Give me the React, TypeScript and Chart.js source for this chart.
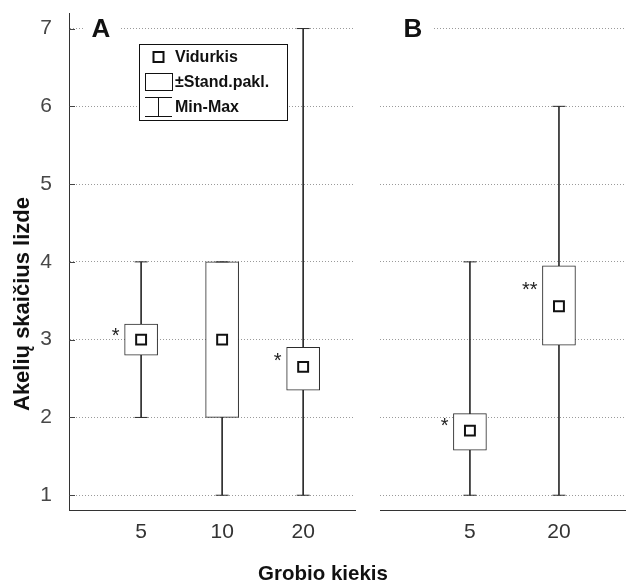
import React, { useEffect, useRef } from 'react';
import { Chart, registerables } from 'chart.js';

Chart.register(...registerables);

const FONT = '"Liberation Sans", Arial, Helvetica, sans-serif';

// Panel A: prey amount 5, 10, 20
const categoriesA = ['5', '10', '20'];
const meanA = [3.0, 3.0, 2.65];
const sdLowA = [2.8, 2.0, 2.35];
const sdHighA = [3.2, 4.0, 2.9];
const minA = [2, 1, 1];
const maxA = [4, 4, 7];
const starsA = ['*', '', '*'];

// Panel B: prey amount 5, 20
const categoriesB = ['5', '20'];
const meanB = [1.83, 3.43];
const sdLowB = [1.58, 2.93];
const sdHighB = [2.05, 3.95];
const minB = [1, 1];
const maxB = [4, 6];
const starsB = ['*', '**'];

const yTicks = [1, 2, 3, 4, 5, 6, 7];
const yTitle = 'Akelių skaičius lizde';
const xTitle = 'Grobio kiekis';
const legendItems = ['Vidurkis', '±Stand.pakl.', 'Min-Max'];

const INK = '#2b2b2b';

type Panel = {
  name: string;
  categories: string[];
  mean: number[];
  low: number[];
  high: number[];
  min: number[];
  max: number[];
  stars: string[];
  xMin: number;
  xMax: number;
  showY: boolean;
  showLegend: boolean;
  padding: { top: number; left: number; right: number; bottom: number };
};

function buildDatasets(p: Panel): any[] {
  const idx = p.mean.map((_, i) => i);
  return [
    {
      type: 'bar',
      label: 'Min-Max',
      data: idx.map((i) => ({ x: i, y: [p.min[i], p.max[i]] })),
      barThickness: 1,
      backgroundColor: INK,
      borderWidth: 0,
      grouped: false,
      order: 4,
    },
    {
      type: 'bar',
      label: '±Stand.pakl.',
      data: idx.map((i) => ({ x: i, y: [p.low[i], p.high[i]] })),
      barThickness: 33,
      backgroundColor: '#ffffff',
      borderColor: INK,
      borderWidth: 1,
      borderSkipped: false,
      grouped: false,
      order: 3,
    },
    {
      type: 'line',
      label: 'caps',
      data: idx.flatMap((i) => [
        { x: i, y: p.min[i] },
        { x: i, y: p.max[i] },
      ]),
      showLine: false,
      pointStyle: 'line',
      pointRadius: 6.5,
      pointBorderColor: INK,
      pointBorderWidth: 1,
      order: 2,
    },
    {
      type: 'line',
      label: 'Vidurkis',
      data: idx.map((i) => ({ x: i, y: p.mean[i] })),
      showLine: false,
      pointStyle: 'rect',
      pointRadius: 7,
      pointBackgroundColor: '#ffffff',
      pointBorderColor: '#111111',
      pointBorderWidth: 2,
      order: 1,
    },
  ];
}

function panelPlugin(p: Panel) {
  return {
    id: 'panelDecor' + p.name,
    beforeDatasetsDraw(chart: any) {
      const { ctx, chartArea } = chart;
      const ys = chart.scales.y;
      const y7 = ys.getPixelForValue(7);
      ctx.save();
      // short inward tick marks on the value axis
      if (p.showY) {
        ctx.strokeStyle = '#444444';
        ctx.lineWidth = 1;
        ctx.beginPath();
        yTicks.forEach((v) => {
          const y = Math.round(ys.getPixelForValue(v)) + 0.5;
          ctx.moveTo(chartArea.left, y);
          ctx.lineTo(chartArea.left + 6, y);
        });
        ctx.stroke();
      }
      ctx.font = `bold 26px ${FONT}`;
      ctx.textBaseline = 'middle';
      ctx.textAlign = 'center';
      const cx = p.showY ? chartArea.left + 32 : chartArea.left + 33;
      const w = ctx.measureText(p.name).width;
      ctx.fillStyle = '#ffffff';
      const bgLeft = p.showY ? cx - w / 2 - 7 : chartArea.left;
      ctx.fillRect(bgLeft, y7 - 14, cx + w / 2 + 10 - bgLeft, 28);
      ctx.fillStyle = '#111111';
      ctx.fillText(p.name, cx, y7 + 1);
      ctx.restore();
    },
    afterDatasetsDraw(chart: any) {
      const { ctx, chartArea } = chart;
      const xs = chart.scales.x;
      const ys = chart.scales.y;
      ctx.save();
      // significance marks left of the boxes
      ctx.font = `20px ${FONT}`;
      ctx.fillStyle = '#222222';
      ctx.textAlign = 'right';
      ctx.textBaseline = 'alphabetic';
      p.stars.forEach((s, i) => {
        if (!s) return;
        const x = xs.getPixelForValue(i) - 16.5 - 5;
        const y = (ys.getPixelForValue(p.mean[i]) + ys.getPixelForValue(p.high[i])) / 2;
        ctx.fillText(s, x, y + 10);
      });

      if (p.showLegend) {
        const L = chartArea.left + 70;
        const T = chartArea.top + 31;
        const W = 148;
        const H = 76;
        ctx.fillStyle = '#ffffff';
        ctx.fillRect(L, T, W, H);
        ctx.strokeStyle = '#111111';
        ctx.lineWidth = 1;
        ctx.strokeRect(L + 0.5, T + 0.5, W, H);

        const sx = L + 19.5;
        const rows = [T + 13, T + 38, T + 63];
        // mean marker
        ctx.lineWidth = 2;
        ctx.strokeRect(sx - 5, rows[0] - 5, 10, 10);
        // sd box
        ctx.lineWidth = 1;
        ctx.strokeRect(L + 6.5, rows[1] - 8.5, 27, 17);
        // min-max whisker
        ctx.beginPath();
        ctx.moveTo(L + 6, rows[2] - 9.5);
        ctx.lineTo(L + 33, rows[2] - 9.5);
        ctx.moveTo(sx, rows[2] - 9.5);
        ctx.lineTo(sx, rows[2] + 9.5);
        ctx.moveTo(L + 6, rows[2] + 9.5);
        ctx.lineTo(L + 33, rows[2] + 9.5);
        ctx.stroke();

        ctx.font = `bold 16px ${FONT}`;
        ctx.fillStyle = '#111111';
        ctx.textAlign = 'left';
        ctx.textBaseline = 'middle';
        legendItems.forEach((t, i) => ctx.fillText(t, L + 36, rows[i] + 1));
      }
      ctx.restore();
    },
  };
}

// keep the plot area exactly where the layout padding puts it
function clearScalePadding(s: any) {
  s.paddingTop = 0;
  s.paddingBottom = 0;
  s.paddingLeft = 0;
  s.paddingRight = 0;
}

function buildConfig(p: Panel): any {
  return {
    type: 'bar',
    data: { datasets: buildDatasets(p) },
    options: {
      responsive: false,
      animation: false,
      events: [],
      layout: { padding: p.padding, autoPadding: false },
      plugins: { legend: { display: false }, tooltip: { enabled: false } },
      scales: {
        x: {
          type: 'linear',
          offset: false,
          bounds: 'ticks',
          min: p.xMin,
          max: p.xMax,
          grid: { display: false, offset: false },
          border: { display: true, color: '#333333', width: 1 },
          afterBuildTicks: (s: any) => {
            s.ticks = p.categories.map((_, i) => ({ value: i }));
          },
          ticks: {
            font: { family: FONT, size: 21 },
            color: '#333333',
            padding: 2,
            maxRotation: 0,
            autoSkip: false,
            callback: (v: number) => p.categories[Math.round(v)] ?? '',
          },
          afterFit: (s: any) => {
            s.height = 73;
            clearScalePadding(s);
          },
        },
        y: {
          type: 'linear',
          min: 0.81,
          max: 7.2,
          afterBuildTicks: (s: any) => {
            s.ticks = yTicks.map((v) => ({ value: v }));
          },
          grid: { color: '#9a9a9a', lineWidth: 1, drawTicks: false },
          border: { display: p.showY, color: '#333333', width: 1, dash: [1, 2] },
          ticks: {
            display: p.showY,
            font: { family: FONT, size: 21 },
            color: '#474747',
            padding: 17,
          },
          afterFit: (s: any) => {
            s.width = p.showY ? 69 : 0;
            clearScalePadding(s);
          },
        },
      },
    },
    plugins: [panelPlugin(p)],
  };
}

const panelA: Panel = {
  name: 'A',
  categories: categoriesA,
  mean: meanA,
  low: sdLowA,
  high: sdHighA,
  min: minA,
  max: maxA,
  stars: starsA,
  xMin: -0.89,
  xMax: 2.64,
  showY: true,
  showLegend: true,
  padding: { top: 13, left: 0, right: 7, bottom: 0 },
};

const panelB: Panel = {
  name: 'B',
  categories: categoriesB,
  mean: meanB,
  low: sdLowB,
  high: sdHighB,
  min: minB,
  max: maxB,
  stars: starsB,
  xMin: -1.01,
  xMax: 1.753,
  showY: false,
  showLegend: false,
  padding: { top: 13, left: 18, right: 0, bottom: 0 },
};

function PanelChart({ panel, left, width }: { panel: Panel; left: number; width: number }) {
  const ref = useRef<HTMLCanvasElement | null>(null);
  useEffect(() => {
    if (!ref.current) return;
    const chart = new Chart(ref.current, buildConfig(panel));
    return () => chart.destroy();
  }, [panel]);
  return (
    <canvas
      ref={ref}
      width={width}
      height={583}
      style={{ position: 'absolute', left, top: 0, width, height: 583 }}
    />
  );
}

export default function App() {
  return (
    <div
      style={{
        position: 'fixed',
        left: 0,
        top: 0,
        width: 626,
        height: 583,
        background: '#ffffff',
        overflow: 'hidden',
      }}
    >
      <PanelChart panel={panelA} left={0} width={362} />
      <PanelChart panel={panelB} left={362} width={264} />
      <div
        style={{
          position: 'absolute',
          left: 22,
          top: 304,
          transform: 'translate(-50%, -50%) rotate(-90deg)',
          whiteSpace: 'nowrap',
          font: `bold 22px ${FONT}`,
          color: '#111111',
        }}
      >
        {yTitle}
      </div>
      <div
        style={{
          position: 'absolute',
          left: 323,
          top: 573,
          transform: 'translate(-50%, -50%)',
          whiteSpace: 'nowrap',
          font: `bold 20.5px ${FONT}`,
          color: '#111111',
        }}
      >
        {xTitle}
      </div>
    </div>
  );
}
